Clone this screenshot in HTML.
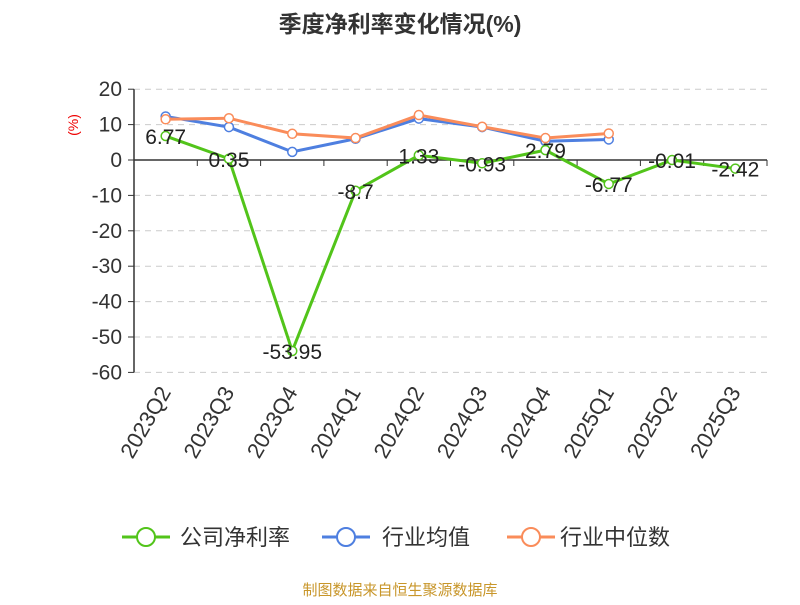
<!DOCTYPE html>
<html><head><meta charset="utf-8"><style>
body{margin:0;background:#fff;font-family:"Liberation Sans","Noto Sans CJK SC",sans-serif}
</style></head><body>
<svg id="c" width="800" height="600" xmlns="http://www.w3.org/2000/svg">
<text x="400" y="32" text-anchor="middle" font-size="23" font-weight="bold" fill="#333">季度净利率变化情况(%)</text>
<text x="78" y="125" font-size="14" fill="#e00" transform="rotate(-90 78 125)" text-anchor="middle">(%)</text>
<g id="grid"></g><g id="series"></g>
<g font-size="22" fill="#333">
<g><line x1="122" y1="537" x2="170" y2="537" stroke="#52c41a" stroke-width="3"/><circle cx="146" cy="537" r="9" fill="#fff" stroke="#52c41a" stroke-width="2"/><text x="180" y="545">公司净利率</text></g>
<g><line x1="322" y1="537" x2="370" y2="537" stroke="#4e7fe0" stroke-width="3"/><circle cx="346" cy="537" r="9" fill="#fff" stroke="#4e7fe0" stroke-width="2"/><text x="382" y="545">行业均值</text></g>
<g><line x1="507" y1="537" x2="555" y2="537" stroke="#fa8c5a" stroke-width="3"/><circle cx="531" cy="537" r="9" fill="#fff" stroke="#fa8c5a" stroke-width="2"/><text x="560" y="545">行业中位数</text></g>
</g>
<text x="400" y="595" text-anchor="middle" font-size="15" fill="#c8962a">制图数据来自恒生聚源数据库</text>
</svg>
<script>
const categories=["2023Q2","2023Q3","2023Q4","2024Q1","2024Q2","2024Q3","2024Q4","2025Q1","2025Q2","2025Q3"];
const company=[6.77,0.35,-53.95,-8.7,1.33,-0.93,2.79,-6.77,-0.01,-2.42];
const industryAvg=[12.3,9.3,2.3,6.0,11.7,9.3,5.3,5.8];
const industryMedian=[11.5,11.8,7.4,6.2,12.7,9.4,6.2,7.5];
const yTicks=[20,10,0,-10,-20,-30,-40,-50,-60];
const NS="http://www.w3.org/2000/svg";
const x0=134,x1=767,bw=(x1-x0)/categories.length;
const X=i=>x0+bw*(i+0.5);
const Y=v=>160-v*3.54;
function mk(p,t,a){const e=document.createElementNS(NS,t);for(const k in a)e.setAttribute(k,a[k]);p.appendChild(e);return e;}
const g=document.getElementById('grid'),s=document.getElementById('series');
yTicks.forEach(v=>{
 if(v!==0){const l=mk(g,'line',{x1:x0,x2:x1,y1:Y(v),y2:Y(v),stroke:'#ccc','stroke-dasharray':'6,5'});
 
 }
 const t=mk(g,'text',{x:x0-12,y:Y(v)+7,'text-anchor':'end','font-size':21,fill:'#333'});t.textContent=v;
 
 
 mk(g,'line',{x1:x0-6,x2:x0,y1:Y(v),y2:Y(v),stroke:'#333'});
});
mk(g,'line',{x1:x0,x2:x0,y1:Y(20),y2:Y(-60),stroke:'#333','stroke-width':1.5});
const za=mk(g,'line',{x1:x0,x2:x1,y1:Y(0),y2:Y(0),stroke:'#333','stroke-width':1.5});


categories.forEach((c,i)=>{
 mk(g,'line',{x1:x0+bw*(i+1),x2:x0+bw*(i+1),y1:Y(0),y2:Y(0)+6,stroke:'#333'});
 const tx=X(i)+6,ty=392;
 const t=mk(g,'text',{x:tx,y:ty,'text-anchor':'end','font-size':22,fill:'#333',transform:`rotate(-60 ${tx} ${ty})`});t.textContent=c;
 
 
});
function line(data,col,name,labels){
 const p=mk(s,'polyline',{points:data.map((v,i)=>X(i)+','+Y(v)).join(' '),fill:'none',stroke:col,'stroke-width':3});
 
 
 data.forEach((v,i)=>{
  const c=mk(s,'circle',{cx:X(i),cy:Y(v),r:4.5,fill:'#fff',stroke:col,'stroke-width':1.5});
  
  
  if(labels){const t=mk(s,'text',{x:X(i),y:Y(v)+8,'text-anchor':'middle','font-size':21,fill:'#222'});t.textContent=v;
   
   }
 });
}
line(industryAvg,'#4e7fe0','industry-avg',false);
line(industryMedian,'#fa8c5a','industry-median',false);
line(company,'#52c41a','company',true);
</script>
</body></html>
